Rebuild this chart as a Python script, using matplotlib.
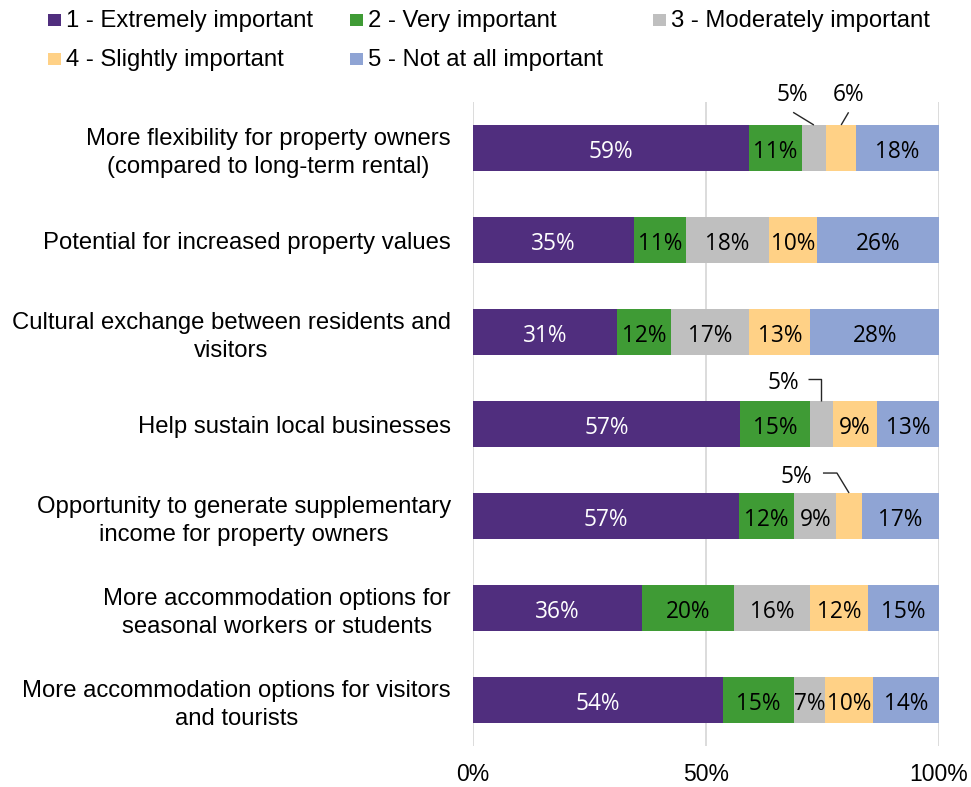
import matplotlib
matplotlib.use("Agg")
import matplotlib.pyplot as plt
from matplotlib.patches import Rectangle
import numpy as np

# Survey statements (top to bottom)
categories = [
    "More flexibility for property owners\n(compared to long-term rental)",
    "Potential for increased property values",
    "Cultural exchange between residents and\nvisitors",
    "Help sustain local businesses",
    "Opportunity to generate supplementary\nincome for property owners",
    "More accommodation options for\nseasonal workers or students",
    "More accommodation options for visitors\nand tourists",
]

series_names = [
    "1 - Extremely important",
    "2 - Very important",
    "3 - Moderately important",
    "4 - Slightly important",
    "5 - Not at all important",
]

# Share of respondents (%) per rating
extremely = [59.2, 34.6, 30.8, 57.4, 57.0, 36.3, 53.7]
very = [11.3, 11.1, 11.7, 14.9, 11.9, 19.7, 15.2]
moderately = [5.3, 17.8, 16.8, 4.9, 9.1, 16.4, 6.6]
slightly = [6.4, 10.3, 13.1, 9.4, 5.4, 12.4, 10.3]
not_at_all = [17.8, 26.2, 27.6, 13.4, 16.6, 15.2, 14.2]

tick_values = [0, 50, 100]
tick_labels = ["0%", "50%", "100%"]

colors = ["#502E7E", "#3F9B35", "#BFBFBF", "#FFD186", "#8FA4D4"]
label_colors = ["white", "black", "black", "black", "black"]

# Small segments get their label above the bar with a leader line:
# (row, series) -> (text dx, text dy, leader points), relative to the
# segment centre (x, in %) and the row centre (y, in rows)
callouts = {
    (0, 2): (-4.6, -0.51, [(-4.45, -0.388), (0.0, -0.25)]),
    (0, 3): (1.6, -0.51, [(1.6, -0.388), (0.0, -0.25)]),
    (3, 2): (-8.25, -0.377, [(-2.95, -0.489), (0.0, -0.489), (0.0, -0.25)]),
    (4, 3): (-11.3, -0.362, [(-5.6, -0.467), (-2.6, -0.467), (0.0, -0.25)]),
}

W, H = 971, 787
fig = plt.figure(figsize=(W / 100, H / 100), dpi=100)
ax = fig.add_axes([473 / W, 41 / H, 466 / W, 644 / H])

text_font = "Liberation Sans"
num_font = "Open Sans"
num_size = 16.3

data = np.array([extremely, very, moderately, slightly, not_at_all])
rows = np.arange(len(categories))
left = np.zeros(len(categories))

for s, (vals, col) in enumerate(zip(data, colors)):
    ax.barh(rows, vals, left=left, height=0.5, color=col, linewidth=0, zorder=3)
    for r, v in enumerate(vals):
        cx = left[r] + v / 2
        txt = f"{round(v):.0f}%"
        if (r, s) in callouts:
            dx, dy, pts = callouts[(r, s)]
            ax.text(cx + dx, r + dy, txt, ha="center", va="baseline",
                    fontsize=num_size, family=num_font, color="black", zorder=5)
            xs = [cx + p[0] for p in pts]
            ys = [r + p[1] for p in pts]
            ax.plot(xs, ys, color="#262626", linewidth=1.0, zorder=5,
                    solid_capstyle="butt", clip_on=False)
        else:
            ax.text(cx, r + 0.105, txt, ha="center", va="baseline",
                    fontsize=num_size, family=num_font, color=label_colors[s],
                    zorder=5)
    left = left + vals

ax.set_xlim(0, 100)
ax.set_ylim(len(categories) - 0.5, -0.5)

ax.set_xticks(tick_values)
ax.set_xticklabels(tick_labels, fontsize=16.5, family=text_font)
ax.set_yticks(rows)
ax.set_yticklabels(categories, fontsize=17.2, family=text_font,
                   ha="right", multialignment="center", linespacing=1.3)
ax.tick_params(axis="x", length=0, pad=12)
ax.tick_params(axis="y", length=0, pad=16)

for sp in ax.spines.values():
    sp.set_visible(False)
ax.xaxis.grid(True, color="#D9D9D9", linewidth=1.3, zorder=0)
ax.set_axisbelow(True)

# Legend laid out in two rows across the top
legend_pos = [(48, 27.3), (350, 27.3), (653, 27.3), (48, 66.3), (350, 66.3)]
sq = 12.5
for (x, base), name, col in zip(legend_pos, series_names, colors):
    fig.patches.append(Rectangle((x / W, 1 - (base - 1) / H), sq / W, sq / H,
                                 transform=fig.transFigure, facecolor=col,
                                 edgecolor="none"))
    fig.text((x + sq + 5) / W, 1 - base / H, name, ha="left", va="baseline",
             fontsize=17.2, family=text_font, color="black")

fig.savefig("out.png", dpi=100)
